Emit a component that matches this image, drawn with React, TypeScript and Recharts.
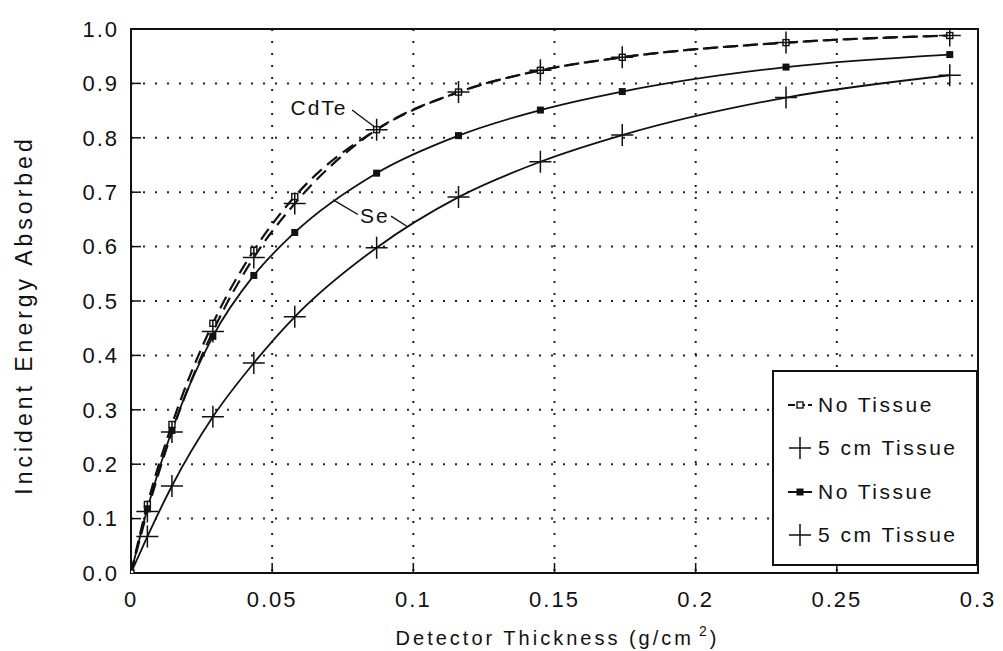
import React from 'react';
import {
  LineChart, Line, XAxis, YAxis, CartesianGrid, Legend, Label,
  ReferenceArea, ReferenceLine, ReferenceDot,
} from 'recharts';

const FONT = '"Liberation Sans", Arial, Helvetica, sans-serif';
const INK = '#111';

// detector thickness (g/cm2) at which each curve was sampled
const thickness = [0, 0.0058, 0.0145, 0.029, 0.0435, 0.058, 0.087, 0.116, 0.145, 0.174, 0.232, 0.29];

// fraction of incident energy absorbed
const cdteNoTissue = [0, 0.126, 0.273, 0.459, 0.593, 0.692, 0.815, 0.884, 0.924, 0.948, 0.975, 0.988];
const cdteTissue = [0, 0.113, 0.259, 0.444, 0.58, 0.679, 0.815, 0.884, 0.924, 0.948, 0.975, 0.988];
const seNoTissue = [0, 0.118, 0.262, 0.435, 0.547, 0.626, 0.735, 0.804, 0.851, 0.885, 0.93, 0.953];
const seTissue = [0, 0.067, 0.16, 0.287, 0.386, 0.471, 0.598, 0.691, 0.756, 0.805, 0.874, 0.915];

const xTicks = [0, 0.05, 0.1, 0.15, 0.2, 0.25, 0.3];
const yTicks = [0, 0.1, 0.2, 0.3, 0.4, 0.5, 0.6, 0.7, 0.8, 0.9, 1.0];

// curve labels and their leader lines, in data units
const curveLabels = [
  { text: 'CdTe', x: 0.0666, y: 0.855 },
  { text: 'Se', x: 0.0864, y: 0.657 },
];
const leaders = [
  [{ x: 0.0783, y: 0.851 }, { x: 0.0868, y: 0.818 }],
  [{ x: 0.0716, y: 0.686 }, { x: 0.0804, y: 0.659 }],
  [{ x: 0.0921, y: 0.656 }, { x: 0.0981, y: 0.636 }],
];

const rows = thickness.map((t, i) => ({
  t,
  cdteNo: cdteNoTissue[i],
  cdteTis: cdteTissue[i],
  seNo: seNoTissue[i],
  seTis: seTissue[i],
}));

const seriesOrder = ['cdteNo', 'cdteTis', 'seNo', 'seTis'];
const markerKind: Record<string, string> = {
  cdteNo: 'open',
  cdteTis: 'cross',
  seNo: 'filled',
  seTis: 'cross',
};

const OpenSquare = (p: any) => (
  <rect key={`o-${p.index}`} x={p.cx - 3} y={p.cy - 3} width={6} height={6}
    fill="#fff" stroke={INK} strokeWidth={1.4} />
);

const FilledSquare = (p: any) =>
  p.index === 0 ? <g key={`f-${p.index}`} /> : (
    <rect key={`f-${p.index}`} x={p.cx - 3.5} y={p.cy - 3.5} width={7} height={7} fill={INK} />
  );

const Cross = (p: any) =>
  p.index === 0 ? <g key={`c-${p.dataKey}-${p.index}`} /> : (
    <path key={`c-${p.dataKey}-${p.index}`}
      d={`M${p.cx - 11},${p.cy}H${p.cx + 11}M${p.cx},${p.cy - 11}V${p.cy + 11}`}
      stroke={INK} strokeWidth={1.5} fill="none" />
  );

function LegendSymbol({ kind }: { kind: string }) {
  return (
    <svg width={44} height={24} style={{ flex: 'none' }}>
      {kind === 'open' && (
        <g>
          <line x1={14} y1={12} x2={38} y2={12} stroke={INK} strokeWidth={2} strokeDasharray="7 3" />
          <rect x={23} y={9} width={6} height={6} fill="#fff" stroke={INK} strokeWidth={1.4} />
        </g>
      )}
      {kind === 'filled' && (
        <g>
          <line x1={14} y1={12} x2={38} y2={12} stroke={INK} strokeWidth={2} />
          <rect x={22.5} y={8.5} width={7} height={7} fill={INK} />
        </g>
      )}
      {kind === 'cross' && (
        <path d="M15,12H37M26,1V23" stroke={INK} strokeWidth={1.5} fill="none" />
      )}
    </svg>
  );
}

function LegendBox({ payload }: any) {
  const items = [...(payload || [])].sort(
    (a: any, b: any) => seriesOrder.indexOf(a.dataKey) - seriesOrder.indexOf(b.dataKey),
  );
  return (
    <div style={{
      width: 206, height: 196, boxSizing: 'border-box', border: `2px solid ${INK}`,
      background: '#fff', paddingTop: 11, fontFamily: FONT,
    }}>
      {items.map((entry: any, i: number) => (
        <div key={i} style={{ height: 43.5, display: 'flex', alignItems: 'center' }}>
          <LegendSymbol kind={markerKind[entry.dataKey]} />
          <span style={{ fontSize: 21, letterSpacing: 2.5, color: INK, whiteSpace: 'nowrap' }}>
            {entry.value}
          </span>
        </div>
      ))}
    </div>
  );
}

const XTitle = (props: any) => {
  const vb = props.viewBox || { x: 131, y: 573, width: 847, height: 78 };
  return (
    <text x={vb.x + vb.width / 2 + 3} y={vb.y + 72} textAnchor="middle" fill={INK}
      fontSize={20} letterSpacing={3} fontFamily={FONT}>
      Detector Thickness (g/cm
      <tspan dx={5} dy={-9} fontSize={14}>2</tspan>
      <tspan dy={9}>)</tspan>
    </text>
  );
};

const YTitle = (props: any) => {
  const vb = props.viewBox || { x: 0, y: 29, width: 131, height: 544 };
  const x = vb.x + 32;
  const y = vb.y + vb.height / 2 + 14;
  return (
    <text x={x} y={y} transform={`rotate(-90 ${x} ${y})`} textAnchor="middle" fill={INK}
      fontSize={23} letterSpacing={4} fontFamily={FONT}>
      Incident Energy Absorbed
    </text>
  );
};

const tickStyle = { fontSize: 22, fill: INK, fontFamily: FONT, letterSpacing: 2 };

export default function App() {
  return (
    <div style={{ position: 'absolute', left: 0, top: 0, width: 1003, height: 651, background: '#fff', fontFamily: FONT }}>
      <LineChart width={1003} height={651} data={rows} margin={{ top: 29, right: 25, bottom: 0, left: 0 }}>
        <CartesianGrid stroke="#222" strokeWidth={2} strokeDasharray="2 10" />
        <XAxis
          dataKey="t" type="number" domain={[0, 0.3]} ticks={xTicks} allowDataOverflow
          height={78} tickSize={-10} tickMargin={28}
          tick={tickStyle} tickFormatter={(v: number) => String(v)}
          axisLine={{ stroke: INK, strokeWidth: 2 }} tickLine={{ stroke: INK, strokeWidth: 1.5 }}
        >
          <Label content={XTitle} />
        </XAxis>
        <YAxis
          type="number" domain={[0, 1]} ticks={yTicks} allowDataOverflow
          width={131} tickSize={-10} tickMargin={22}
          tick={tickStyle} tickFormatter={(v: number) => v.toFixed(1)}
          axisLine={{ stroke: INK, strokeWidth: 2 }} tickLine={{ stroke: INK, strokeWidth: 1.5 }}
        >
          <Label content={YTitle} />
        </YAxis>
        <ReferenceArea x1={0} x2={0.3} y1={0} y2={1} fill="none" stroke={INK} strokeWidth={2} ifOverflow="visible" />

        <Line dataKey="cdteNo" name="No Tissue" type="monotone" stroke={INK} strokeWidth={2.2}
          strokeDasharray="13 7" dot={OpenSquare} activeDot={false} isAnimationActive={false} />
        <Line dataKey="cdteTis" name="5 cm Tissue" type="monotone" stroke={INK} strokeWidth={2.2}
          strokeDasharray="13 7" dot={Cross} activeDot={false} isAnimationActive={false} />
        <Line dataKey="seNo" name="No Tissue" type="monotone" stroke={INK} strokeWidth={1.8}
          dot={FilledSquare} activeDot={false} isAnimationActive={false} />
        <Line dataKey="seTis" name="5 cm Tissue" type="monotone" stroke={INK} strokeWidth={1.8}
          dot={Cross} activeDot={false} isAnimationActive={false} />

        {leaders.map((seg, i) => (
          <ReferenceLine key={`ld-${i}`} segment={seg} stroke={INK} strokeWidth={1.4} ifOverflow="visible" />
        ))}
        {curveLabels.map((c) => (
          <ReferenceDot key={c.text} x={c.x} y={c.y} r={0} ifOverflow="visible"
            shape={(p: any) => (
              <text x={p.cx} y={p.cy + 7} textAnchor="middle" fontSize={21} letterSpacing={2}
                fill={INK} fontFamily={FONT}>{c.text}</text>
            )} />
        ))}

        <Legend layout="vertical" align="center" verticalAlign="middle"
          wrapperStyle={{ left: 772, top: 370, width: 206, height: 196 }} content={LegendBox} />
      </LineChart>
    </div>
  );
}
